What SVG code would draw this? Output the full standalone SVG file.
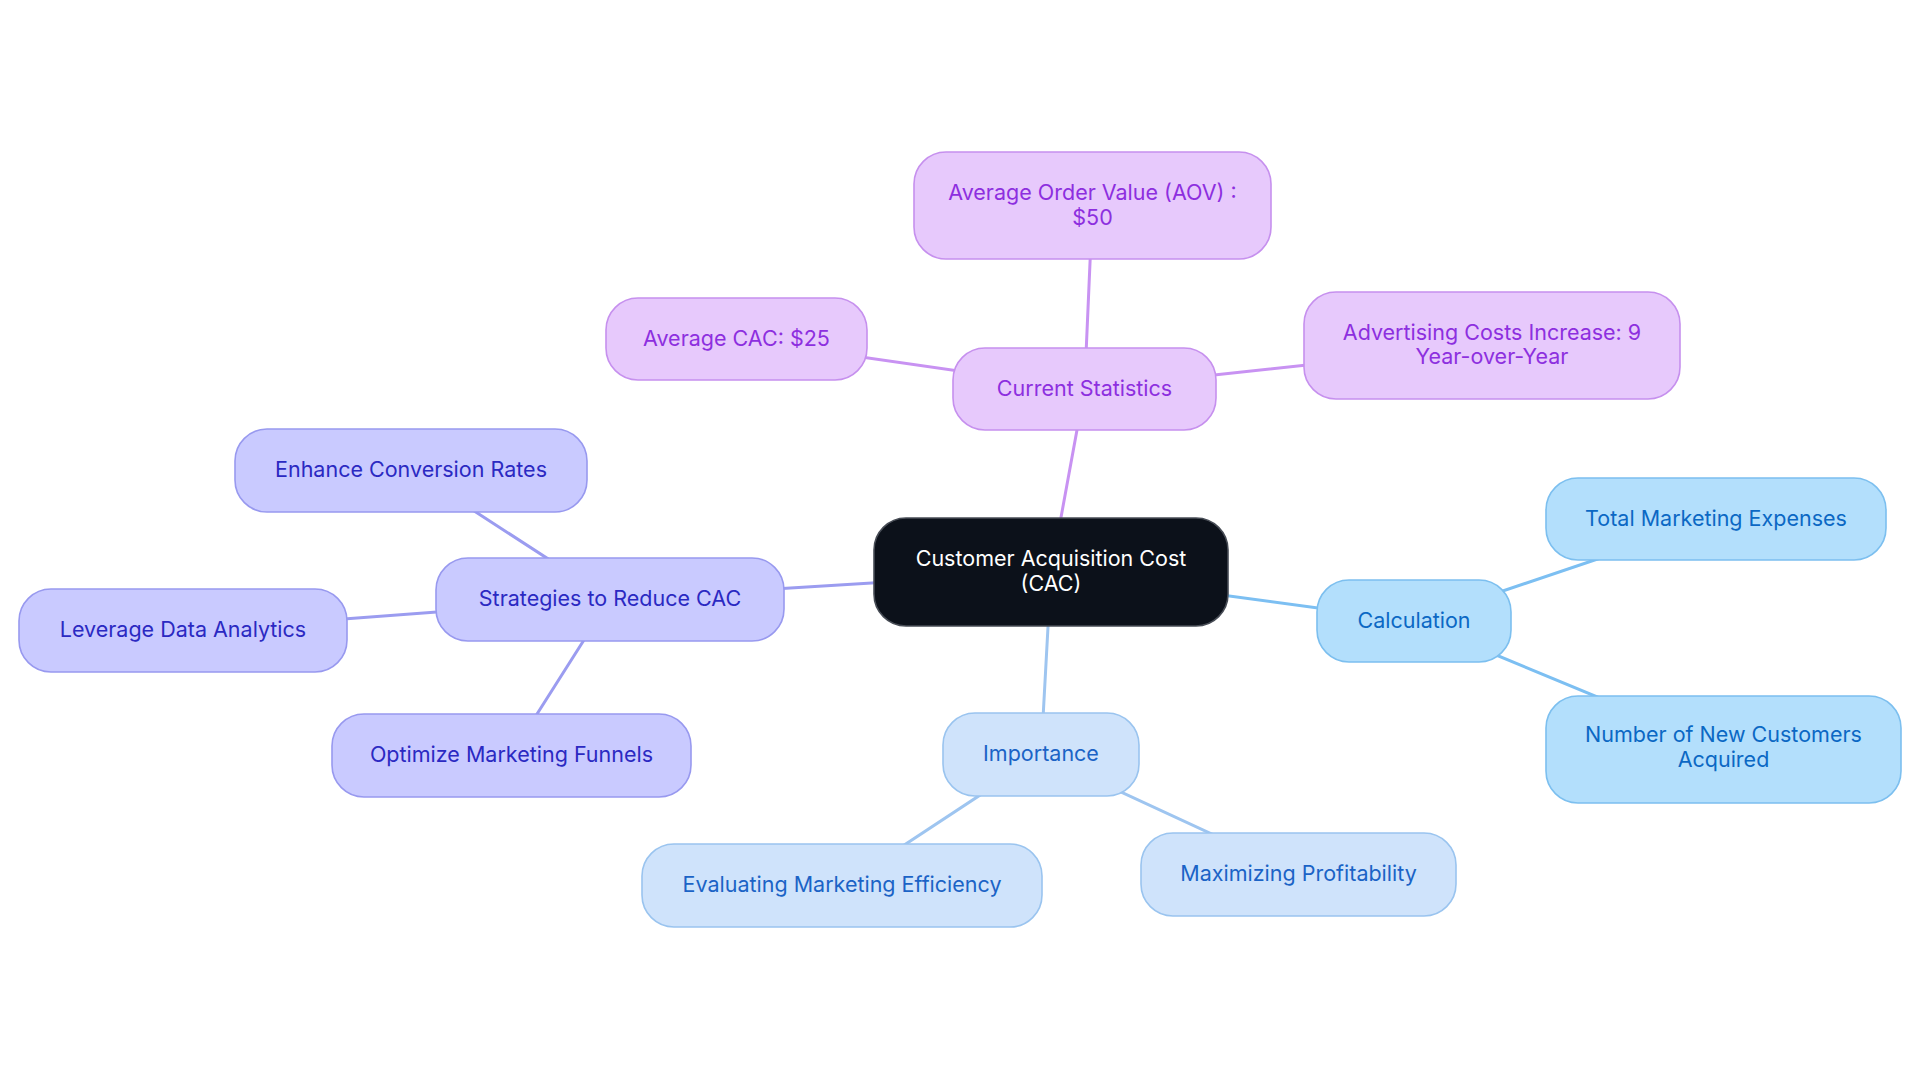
<svg xmlns="http://www.w3.org/2000/svg" width="1920" height="1083" viewBox="0 0 1920 1083">
<style>
text{font-family:Inter,"Open Sans","Liberation Sans",sans-serif;font-size:21.5px;text-anchor:middle;dominant-baseline:central}
.e{stroke-width:3;stroke-linecap:round;fill:none}
.ep{stroke:#c892f2}.es{stroke:#7cbff2}.ei{stroke:#9ec5f0}.eg{stroke:#9b9cf0}
rect{stroke-width:1.6}
.p rect{fill:#e7c9fc;stroke:#c690ee}.p text{fill:#8d2fdf}
.s rect{fill:#b3dffc;stroke:#7cbfef}.s text{fill:#0b68c4}
.i rect{fill:#cfe3fb;stroke:#9ac4ef}.i text{fill:#1b63c6}
.g rect{fill:#c9caff;stroke:#9899ef}.g text{fill:#2b29c2}
.c rect{fill:#0c111a;stroke:#474c55}.c text{fill:#ffffff}
</style>
<rect width="1920" height="1083" fill="#ffffff" stroke="none"/>
<g id="connectors">
<line class="e ep" x1="1051" y1="572" x2="1084.5" y2="389"/>
<line class="e ep" x1="1084.5" y1="389" x2="1092.5" y2="205.5"/>
<line class="e ep" x1="1084.5" y1="389" x2="736.5" y2="339"/>
<line class="e ep" x1="1084.5" y1="389" x2="1492" y2="345"/>
<line class="e es" x1="1051" y1="572" x2="1414" y2="621"/>
<line class="e es" x1="1414" y1="621" x2="1716" y2="519"/>
<line class="e es" x1="1414" y1="621" x2="1723" y2="749"/>
<line class="e ei" x1="1051" y1="572" x2="1041" y2="755"/>
<line class="e ei" x1="1041" y1="755" x2="842" y2="886"/>
<line class="e ei" x1="1041" y1="755" x2="1298" y2="874"/>
<line class="e eg" x1="1051" y1="572" x2="610" y2="599"/>
<line class="e eg" x1="610" y1="599" x2="411" y2="470"/>
<line class="e eg" x1="610" y1="599" x2="183" y2="631"/>
<line class="e eg" x1="610" y1="599" x2="511" y2="755"/>
</g>
<g id="root" class="c">
<rect x="874" y="518" width="354" height="108" rx="32"/>
<text x="1051" y="557.5">Customer Acquisition Cost</text>
<text x="1051" y="582.5">(CAC)</text>
</g>
<g id="current-statistics" class="p">
<rect x="953" y="348" width="263" height="82" rx="32"/>
<text x="1084.5" y="387.5">Current Statistics</text>
</g>
<g id="aov" class="p">
<rect x="914" y="152" width="357" height="107" rx="32"/>
<text x="1092.5" y="191.5">Average Order Value (AOV) :</text>
<text x="1092.5" y="216.5">$50</text>
</g>
<g id="average-cac" class="p">
<rect x="606" y="298" width="261" height="82" rx="32"/>
<text x="736.5" y="337.5">Average CAC: $25</text>
</g>
<g id="advertising-costs" class="p">
<rect x="1304" y="292" width="376" height="107" rx="32"/>
<text x="1492" y="331.5">Advertising Costs Increase: 9</text>
<text x="1492" y="355.5">Year-over-Year</text>
</g>
<g id="calculation" class="s">
<rect x="1317" y="580" width="194" height="82" rx="32"/>
<text x="1414" y="619.5">Calculation</text>
</g>
<g id="total-marketing-expenses" class="s">
<rect x="1546" y="478" width="340" height="82" rx="32"/>
<text x="1716" y="517.5">Total Marketing Expenses</text>
</g>
<g id="new-customers" class="s">
<rect x="1546" y="696" width="355" height="107" rx="32"/>
<text x="1723.5" y="733.5">Number of New Customers</text>
<text x="1723.5" y="758.5">Acquired</text>
</g>
<g id="importance" class="i">
<rect x="943" y="713" width="196" height="83" rx="32"/>
<text x="1041" y="753">Importance</text>
</g>
<g id="evaluating-efficiency" class="i">
<rect x="642" y="844" width="400" height="83" rx="32"/>
<text x="842" y="884">Evaluating Marketing Efficiency</text>
</g>
<g id="maximizing-profitability" class="i">
<rect x="1141" y="833" width="315" height="83" rx="32"/>
<text x="1298.5" y="873">Maximizing Profitability</text>
</g>
<g id="strategies" class="g">
<rect x="436" y="558" width="348" height="83" rx="32"/>
<text x="610" y="598">Strategies to Reduce CAC</text>
</g>
<g id="enhance-conversion" class="g">
<rect x="235" y="429" width="352" height="83" rx="32"/>
<text x="411" y="469">Enhance Conversion Rates</text>
</g>
<g id="leverage-data" class="g">
<rect x="19" y="589" width="328" height="83" rx="32"/>
<text x="183" y="629">Leverage Data Analytics</text>
</g>
<g id="optimize-funnels" class="g">
<rect x="332" y="714" width="359" height="83" rx="32"/>
<text x="511.5" y="754">Optimize Marketing Funnels</text>
</g>
</svg>
